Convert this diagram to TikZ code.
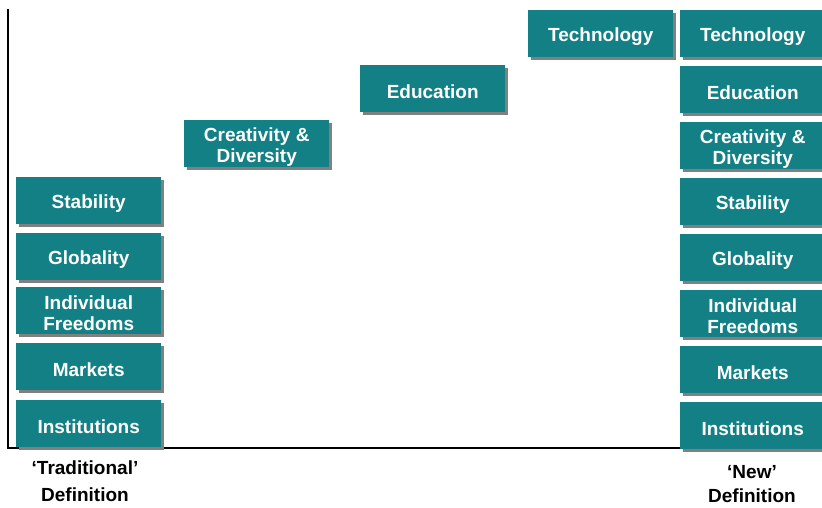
\documentclass[tikz,border=0pt]{standalone}
\usepackage{fontspec}
\setmainfont{Liberation Sans}
\usetikzlibrary{shadows}
\definecolor{teal1}{RGB}{19,128,134}
\definecolor{shade1}{RGB}{128,128,128}
\newcommand\tealbox[4]{%
  \node[box] (#1) at (#2,#3) {};
  \node[boxtext] (#1t) at ([yshift=-3pt]#1.center) {#4};}
\begin{document}
\begin{tikzpicture}[x=1pt,y=-1pt,
  box/.style={fill=teal1, draw=none, anchor=north west,
    minimum width=145pt, minimum height=47pt, inner sep=0pt,
    drop shadow={shadow xshift=3pt, shadow yshift=-3pt, fill=shade1, opacity=1}},
  boxtext/.style={text=white, inner sep=0pt, align=center,
    font=\fontsize{19}{21}\selectfont\bfseries},
  lbl/.style={text=black, align=center, inner sep=0pt, font=\bfseries}]
\useasboundingbox (0,0) rectangle (822,507);
\begin{scope}
\clip (0,0) rectangle (822,507);
% axes
\coordinate (top) at (8,9);
\coordinate (origin) at (8,448);
\coordinate (xend) at (680,448);
\draw[line width=2pt] (top) -- (origin) -- (xend);
% traditional column
\tealbox{ls}{16}{177}{Stability}
\tealbox{lg}{16}{233}{Globality}
\tealbox{lf}{16}{287}{Individual\\Freedoms}
\tealbox{lm}{16}{343}{Markets}
\tealbox{li}{16}{400}{Institutions}
% rising steps
\tealbox{mc}{184}{120}{Creativity \&\\Diversity}
\tealbox{me}{360}{65}{Education}
\tealbox{mt}{528}{10}{Technology}
% new column
\tealbox{rt}{680}{10}{Technology}
\tealbox{re}{680}{66}{Education}
\tealbox{rc}{680}{122}{Creativity \&\\Diversity}
\tealbox{rs}{680}{178}{Stability}
\tealbox{rg}{680}{234}{Globality}
\tealbox{rf}{680}{290}{Individual\\Freedoms}
\tealbox{rm}{680}{346}{Markets}
\tealbox{ri}{680}{402}{Institutions}
\end{scope}
% labels
\node[lbl, font=\fontsize{19}{27}\selectfont\bfseries] (ltrad) at (85,481) {‘Traditional’\\Definition};
\node[lbl, font=\fontsize{19}{24}\selectfont\bfseries] (lnew) at (752,484) {‘New’\\Definition};
\end{tikzpicture}
\end{document}
